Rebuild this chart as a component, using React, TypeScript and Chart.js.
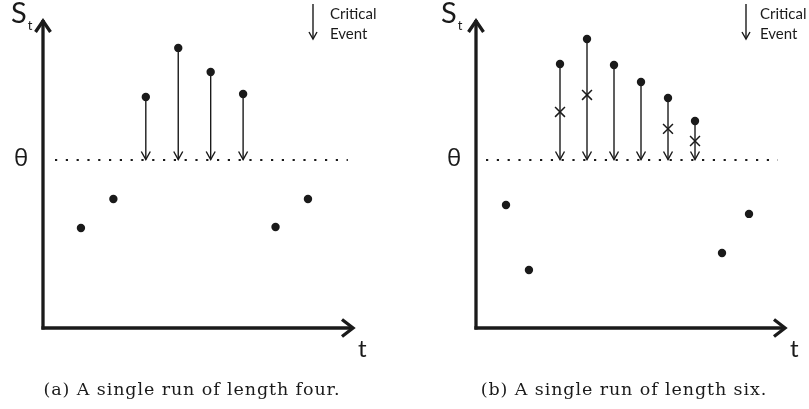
import React, { useEffect, useRef } from "react";
import { Chart, registerables } from "chart.js";

Chart.register(...registerables);

// ---- data ----
const theta = 1;
const timesA = [1, 2, 3, 4, 5, 6, 7, 8];
const valuesA = [0.595, 0.768, 1.375, 1.667, 1.524, 1.393, 0.601, 0.768];
const thresholdSpanA = [0.2, 9.23];
const xRangeA = [-0.17, 9.45];

const timesB = [1, 1.85, 3, 4, 5, 6, 7, 8, 9, 10];
const valuesB = [0.732, 0.345, 1.571, 1.72, 1.565, 1.464, 1.369, 1.232, 0.446, 0.679];
const crossTimesB = [3, 4, 7, 8];
const crossValuesB = [1.286, 1.387, 1.185, 1.113];
const thresholdSpanB = [0.26, 11.07];
const xRangeB = [-0.111, 11.407];

const yRange = [0, 1.845];
const captionA = "(a) A single run of length four.";
const captionB = "(b) A single run of length six.";
const legendLines = ["Critical", "Event"];

const INK = "#1a1a1a";
const SANS = "Lato, 'Open Sans', sans-serif";

function drawChevronDown(ctx: CanvasRenderingContext2D, x: number, y: number, w: number, h: number) {
  ctx.beginPath();
  ctx.moveTo(x - w, y - h);
  ctx.lineTo(x, y);
  ctx.lineTo(x + w, y - h);
  ctx.stroke();
}

type PanelCfg = {
  width: number;
  times: number[];
  values: number[];
  crossTimes: number[];
  crossValues: number[];
  span: number[];
  xRange: number[];
  padLeft: number;
  padRight: number;
  sDx: number;
  thetaDx: number;
  legendDx: number;
  legendTextGap: number;
};

function Panel({ cfg }: { cfg: PanelCfg }) {
  const ref = useRef<HTMLCanvasElement | null>(null);
  useEffect(() => {
    if (!ref.current) return;
    const decor = {
      id: "decor",
      beforeDatasetsDraw(chart: any) {
        const ctx = chart.ctx as CanvasRenderingContext2D;
        const { left, right, top, bottom } = chart.chartArea;
        const xs = chart.scales.x;
        const ys = chart.scales.y;
        ctx.save();
        ctx.strokeStyle = INK;
        // axes
        ctx.lineWidth = 3.3;
        ctx.lineJoin = "miter";
        ctx.lineCap = "butt";
        ctx.beginPath();
        ctx.moveTo(left, bottom + 1.6);
        ctx.lineTo(left, top + 2);
        ctx.stroke();
        ctx.beginPath();
        ctx.moveTo(left - 1.6, bottom);
        ctx.lineTo(right - 2, bottom);
        ctx.stroke();
        ctx.beginPath();
        ctx.moveTo(left - 7.5, top + 14);
        ctx.lineTo(left, top + 3);
        ctx.lineTo(left + 7.5, top + 14);
        ctx.stroke();
        ctx.beginPath();
        ctx.moveTo(right - 13, bottom - 8.5);
        ctx.lineTo(right - 2, bottom);
        ctx.lineTo(right - 13, bottom + 8.5);
        ctx.stroke();
        // stems for critical events
        const ty = ys.getPixelForValue(theta);
        ctx.lineWidth = 1.4;
        cfg.values.forEach((v, i) => {
          if (v <= theta) return;
          const px = xs.getPixelForValue(cfg.times[i]);
          const py = ys.getPixelForValue(v);
          ctx.beginPath();
          ctx.moveTo(px, py);
          ctx.lineTo(px, ty - 0.5);
          ctx.stroke();
          drawChevronDown(ctx, px, ty - 0.5, 4.5, 8);
        });
        ctx.restore();
      },
      afterDraw(chart: any) {
        const ctx = chart.ctx as CanvasRenderingContext2D;
        const { left, right } = chart.chartArea;
        const ys = chart.scales.y;
        ctx.save();
        ctx.fillStyle = INK;
        ctx.strokeStyle = INK;
        ctx.textAlign = "left";
        ctx.textBaseline = "alphabetic";
        // S_t
        ctx.font = `29px ${SANS}`;
        const sx = left + cfg.sDx;
        ctx.fillText("S", sx, 23);
        const sw = ctx.measureText("S").width;
        ctx.font = `13px ${SANS}`;
        ctx.fillText("t", sx + sw + 1, 30);
        // theta
        ctx.font = `24px 'Open Sans', sans-serif`;
        ctx.textBaseline = "middle";
        ctx.textAlign = "center";
        ctx.fillText("θ", left + cfg.thetaDx, ys.getPixelForValue(theta) - 1);
        // t
        ctx.textAlign = "left";
        ctx.textBaseline = "alphabetic";
        ctx.font = `24px ${SANS}`;
        ctx.fillText("t", right + 3, 357);
        // legend
        const lx = left + cfg.legendDx;
        ctx.lineWidth = 1.4;
        ctx.beginPath();
        ctx.moveTo(lx, 4);
        ctx.lineTo(lx, 39);
        ctx.stroke();
        drawChevronDown(ctx, lx, 39, 4, 7);
        ctx.font = `15px ${SANS}`;
        ctx.fillText(legendLines[0], lx + cfg.legendTextGap, 19);
        ctx.fillText(legendLines[1], lx + cfg.legendTextGap, 39);
        ctx.restore();
      },
    };
    const datasets: any[] = [
      {
        type: "line",
        data: [
          { x: cfg.span[0], y: theta },
          { x: cfg.span[1], y: theta },
        ],
        borderColor: INK,
        borderWidth: 2.2,
        borderDash: [2.2, 8.6],
        pointRadius: 0,
        clip: false,
      },
    ];
    if (cfg.crossTimes.length) {
      datasets.push({
        type: "scatter",
        data: cfg.crossTimes.map((t, i) => ({ x: t, y: cfg.crossValues[i] })),
        pointStyle: "crossRot",
        pointRadius: 7,
        borderWidth: 1.5,
        borderColor: INK,
        clip: false,
      });
    }
    datasets.push({
      type: "scatter",
      data: cfg.times.map((t, i) => ({ x: t, y: cfg.values[i] })),
      pointStyle: "circle",
      pointRadius: 4.2,
      backgroundColor: INK,
      borderWidth: 0,
      clip: false,
    });
    const chart = new Chart(ref.current, {
      type: "scatter",
      data: { datasets },
      options: {
        animation: false,
        responsive: false,
        devicePixelRatio: 1,
        events: [],
        layout: {
          padding: { left: cfg.padLeft, right: cfg.padRight, top: 18, bottom: 81 },
        },
        plugins: { legend: { display: false }, tooltip: { enabled: false }, title: { display: false } },
        scales: {
          x: { type: "linear", display: false, min: cfg.xRange[0], max: cfg.xRange[1] },
          y: { type: "linear", display: false, min: yRange[0], max: yRange[1] },
        },
      },
      plugins: [decor],
    } as any);
    return () => chart.destroy();
  }, [cfg]);
  return <canvas ref={ref} width={cfg.width} height={409} style={{ display: "block", width: cfg.width, height: 409 }} />;
}

const cfgA: PanelCfg = {
  width: 404,
  times: timesA,
  values: valuesA,
  crossTimes: [],
  crossValues: [],
  span: thresholdSpanA,
  xRange: xRangeA,
  padLeft: 43,
  padRight: 49,
  sDx: -32,
  thetaDx: -22,
  legendDx: 270,
  legendTextGap: 17,
};

const cfgB: PanelCfg = {
  width: 405,
  times: timesB,
  values: valuesB,
  crossTimes: crossTimesB,
  crossValues: crossValuesB,
  span: thresholdSpanB,
  xRange: xRangeB,
  padLeft: 72,
  padRight: 22,
  sDx: -35,
  thetaDx: -22,
  legendDx: 270,
  legendTextGap: 14,
};

const captionStyle: React.CSSProperties = {
  position: "absolute",
  top: 377,
  width: 440,
  lineHeight: "24px",
  textAlign: "center",
  fontFamily: "'DejaVu Serif', serif",
  fontSize: 17.5,
  letterSpacing: 0.9,
  color: INK,
  whiteSpace: "nowrap",
};

export default function App() {
  return (
    <div style={{ position: "absolute", left: 0, top: 0, width: 809, height: 409, background: "#fff", overflow: "hidden" }}>
      <div style={{ position: "absolute", left: 0, top: 0 }}>
        <Panel cfg={cfgA} />
      </div>
      <div style={{ position: "absolute", left: 404, top: 0 }}>
        <Panel cfg={cfgB} />
      </div>
      <div style={{ ...captionStyle, left: 192 - 220 }}>{captionA}</div>
      <div style={{ ...captionStyle, left: 624 - 220 }}>{captionB}</div>
    </div>
  );
}
